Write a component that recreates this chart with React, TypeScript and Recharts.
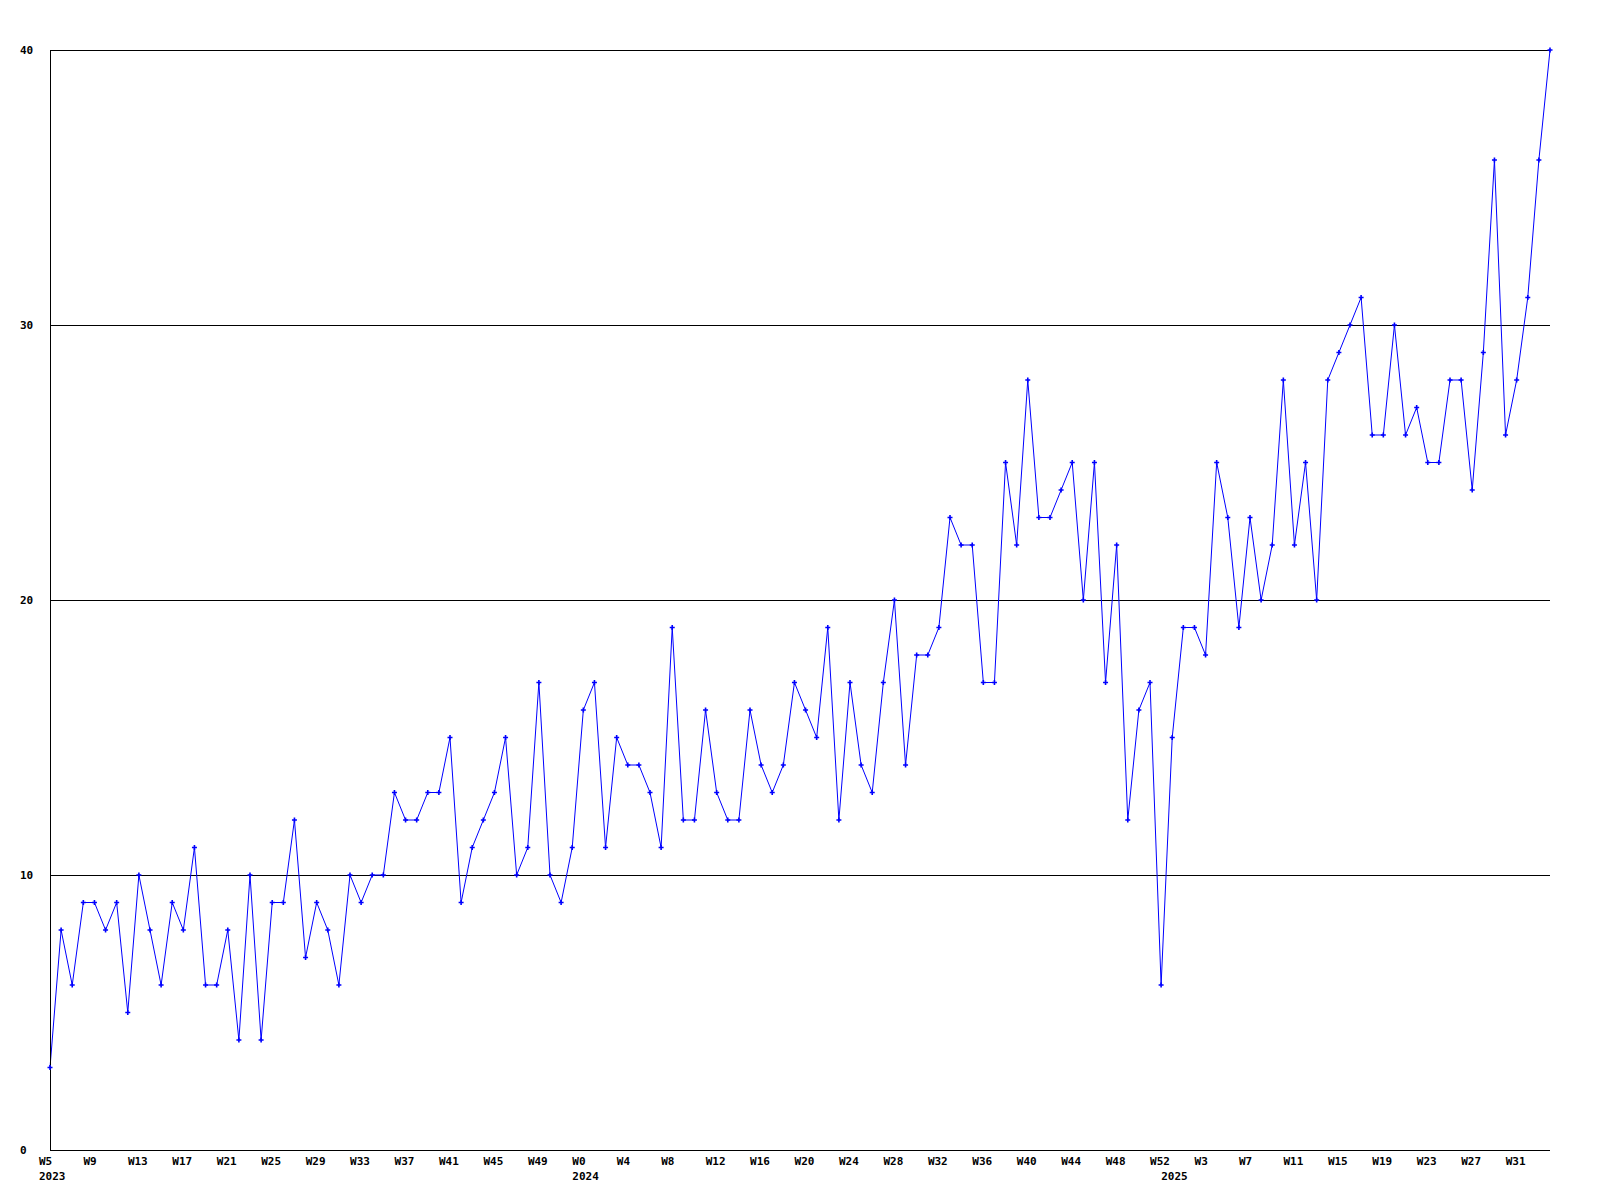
import React from "react";
import { LineChart, Line, XAxis, YAxis, CartesianGrid } from "recharts";

// weekly counts, one array per year
const counts2023 = [3, 8, 6, 9, 9, 8, 9, 5, 10, 8, 6, 9, 8, 11, 6, 6, 8, 4, 10, 4, 9, 9, 12, 7, 9, 8, 6, 10, 9, 10, 10, 13, 12, 12, 13, 13, 15, 9, 11, 12, 13, 15, 10, 11, 17, 10, 9, 11];
const counts2024 = [16, 17, 11, 15, 14, 14, 13, 11, 19, 12, 12, 16, 13, 12, 12, 16, 14, 13, 14, 17, 16, 15, 19, 12, 17, 14, 13, 17, 20, 14, 18, 18, 19, 23, 22, 22, 17, 17, 25, 22, 28, 23, 23, 24, 25, 20, 25, 17, 22, 12, 16, 17, 6];
const counts2025 = [15, 19, 19, 18, 25, 23, 19, 23, 20, 22, 28, 22, 25, 20, 28, 29, 30, 31, 26, 26, 30, 26, 27, 25, 25, 28, 28, 24, 29, 36, 26, 28, 31, 36, 40];

const years = [2023, 2024, 2025];
const firstWeeks = [5, 0, 0];
const yTicks = [0, 10, 20, 30, 40];

const FONT = "'DejaVu Sans Mono', monospace";

const data: { i: number; week: number; year: number; yearStart: boolean; value: number }[] = [];
[counts2023, counts2024, counts2025].forEach((arr, y) => {
  arr.forEach((v, k) => {
    data.push({ i: data.length, week: firstWeeks[y] + k, year: years[y], yearStart: k === 0, value: v });
  });
});

const xTicks = data.filter((d) => d.i % 4 === 0 || d.yearStart).map((d) => d.i);

function XTick(props: any) {
  const { x, y, payload } = props;
  const d = data[payload.value];
  if (!d) return null;
  return (
    <g>
      {d.i % 4 === 0 && (
        <text x={x - 11} y={y + 3} textAnchor="start" dominantBaseline="central" fontFamily={FONT} fontWeight="bold" fontSize={11} fill="#000">
          {`W${d.week}`}
        </text>
      )}
      {d.yearStart && (
        <text x={x - 11} y={y + 18.5} textAnchor="start" dominantBaseline="central" fontFamily={FONT} fontWeight="bold" fontSize={11} fill="#000">
          {d.year}
        </text>
      )}
    </g>
  );
}

function YTick(props: any) {
  const { y, payload } = props;
  return (
    <text x={20} y={y} textAnchor="start" dominantBaseline="central" fontFamily={FONT} fontWeight="bold" fontSize={11} fill="#000">
      {payload.value}
    </text>
  );
}

function Marker(props: any) {
  const { cx, cy, index } = props;
  if (cx == null || cy == null) return <g key={index} />;
  return (
    <path
      key={index}
      d={`M${cx - 2.5},${cy}H${cx + 2.5}M${cx},${cy - 2.5}V${cy + 2.5}`}
      stroke="#0000ff"
      strokeWidth={1.6}
      fill="none"
    />
  );
}

export default function App() {
  return (
    <div style={{ position: "absolute", left: 0, top: 0, width: 1600, height: 1200, background: "#fff" }}>
      <LineChart width={1600} height={1200} data={data} margin={{ top: 50, right: 50, bottom: 0, left: 0 }}>
        <CartesianGrid vertical={false} stroke="#000" strokeWidth={1} shapeRendering="crispEdges" />
        <XAxis
          dataKey="i"
          type="number"
          domain={[0, data.length - 1]}
          ticks={xTicks}
          interval={0}
          tick={<XTick />}
          tickLine={false}
          axisLine={{ stroke: "#000", shapeRendering: "crispEdges" }}
          height={50}
        />
        <YAxis
          domain={[0, 40]}
          ticks={yTicks}
          tick={<YTick />}
          tickLine={false}
          axisLine={{ stroke: "#000", shapeRendering: "crispEdges" }}
          width={50}
        />
        <Line
          type="linear"
          dataKey="value"
          stroke="#0000ff"
          strokeWidth={1}
          dot={Marker}
          activeDot={false}
          isAnimationActive={false}
        />
      </LineChart>
    </div>
  );
}
